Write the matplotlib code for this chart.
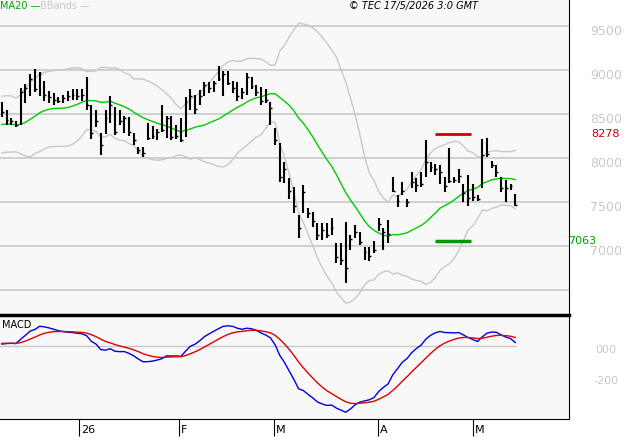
import numpy as np
import matplotlib.pyplot as plt
import matplotlib.transforms as mt

# daily bars (high, low, close)
highs = [8640, 8540, 8450, 8420, 8800, 8840, 8960, 9010, 8980, 8870,
         8760, 8740, 8690, 8720, 8760, 8780, 8780, 8780, 8920, 8600,
         8540, 8280, 8550, 8700, 8580, 8540, 8480, 8470, 8280, 8120,
         8120, 8400, 8360, 8330, 8600, 8480, 8480, 8380, 8460, 8690,
         8780, 8720, 8770, 8860, 8860, 8880, 9050, 8990, 8990, 8880,
         8860, 8790, 8970, 8920, 8830, 8810, 8780, 8640, 8340, 8170,
         7950, 7770, 7670, 7350, 7690, 7430, 7390, 7260, 7260, 7260,
         7320, 7040, 7040, 7270, 7130, 7240, 7160, 6990, 6990, 7060,
         7320, 7210, 7300, 7780, 7580, 7730, 7530, 7840, 7770, 7840,
         8200, 7950, 7930, 7920, 7790, 8110, 7780, 7880, 7700, 7810,
         7710, 7580, 8220, 8230, 7970, 7920, 7790, 7750, 7710, 7590]
lows = [8470, 8380, 8380, 8350, 8380, 8620, 8700, 8750, 8700, 8650,
        8630, 8600, 8620, 8620, 8650, 8660, 8660, 8650, 8550, 8220,
        8350, 8040, 8270, 8400, 8260, 8380, 8280, 8250, 8150, 8050,
        8010, 8200, 8220, 8200, 8300, 8230, 8200, 8220, 8180, 8240,
        8540, 8500, 8600, 8710, 8740, 8750, 8870, 8700, 8830, 8740,
        8650, 8670, 8720, 8780, 8700, 8600, 8620, 8380, 8150, 7730,
        7720, 7540, 7380, 7090, 7380, 7320, 7220, 7070, 7070, 7090,
        7130, 6810, 6780, 6580, 6950, 7090, 7010, 6840, 6830, 6920,
        7170, 6950, 7040, 7610, 7440, 7580, 7440, 7660, 7610, 7670,
        7780, 7840, 7810, 7700, 7610, 7720, 7720, 7720, 7500, 7460,
        7510, 7510, 7660, 8010, 7890, 7780, 7610, 7500, 7640, 7450]
closes = [8520, 8430, 8420, 8380, 8750, 8800, 8900, 8780, 8950, 8720,
          8690, 8660, 8650, 8680, 8700, 8720, 8700, 8720, 8600, 8280,
          8420, 8150, 8450, 8600, 8300, 8420, 8450, 8290, 8200, 8090,
          8060, 8230, 8250, 8290, 8320, 8450, 8240, 8250, 8210, 8640,
          8700, 8560, 8710, 8830, 8800, 8850, 8900, 8950, 8850, 8800,
          8700, 8750, 8920, 8820, 8750, 8650, 8660, 8570, 8200, 7780,
          7870, 7620, 7450, 7200, 7610, 7380, 7280, 7130, 7180, 7130,
          7200, 6880, 6840, 6750, 7080, 7160, 7050, 6930, 6890, 6960,
          7250, 7160, 7140, 7630, 7510, 7620, 7500, 7730, 7690, 7700,
          7960, 7900, 7870, 7840, 7680, 7740, 7750, 7800, 7600, 7550,
          7560, 7540, 8040, 8050, 7920, 7840, 7660, 7660, 7680, 7470]
# closes before the first visible bar (only feed the indicators)
pre_closes = [8300, 8450, 8600, 8550, 8400, 8200, 8100, 8150, 8250, 8350,
              8500, 8600, 8650, 8550, 8400, 8300, 8250, 8200, 8300]

tick_pos = [16.3, 37.6, 57.8, 79.8, 100.0]
tick_labels = ['26', 'F', 'M', 'A', 'M']
price_ticks = [7000, 7500, 8000, 8500, 9000, 9500]
macd_ticks = [0, -200]
level_hi, level_lo = 8278, 7063

allc = np.array(pre_closes + closes, dtype=float)
n_pre = len(pre_closes)
s = np.lib.stride_tricks.sliding_window_view(allc, 20)
ma = s.mean(axis=1)
sd = s.std(axis=1)
x_ma = np.arange(len(ma)) + (19 - n_pre)

def ema(v, n):
    a = 2 / (n + 1)
    out = np.empty_like(v)
    out[0] = v[0]
    for i in range(1, len(v)):
        out[i] = a * v[i] + (1 - a) * out[i - 1]
    return out

macd = ema(allc, 12) - ema(allc, 26)
sig = ema(macd, 9)
macd, sig = macd[n_pre:], sig[n_pre:]

x = np.arange(len(closes))
W, H = 627, 440
fig = plt.figure(figsize=(6.27, 4.4), dpi=100)
bg = '#f8f8f8'
grid = '#c8c8c8'

ax = fig.add_axes([0, 125 / H, 569 / W, 315 / H])
ax.set_facecolor(bg)
ax.set_xlim(-0.4, 120.4)
ax.set_ylim(6217, 9795)
for p in [6500] + price_ticks:
    ax.axhline(p, color=grid, lw=1.2, zorder=0)
ax.plot(x_ma, ma + 2 * sd, color='#c8c8c8', lw=1)
ax.plot(x_ma, ma - 2 * sd, color='#c8c8c8', lw=1)
ax.plot(x_ma, ma, color='#00cc00', lw=1)
ax.vlines(x, lows, highs, color='black', lw=1.5)
ax.hlines(closes, x, x + 0.4, color='black', lw=1)
ax.hlines(level_hi, 92, 99.5, color='#cc0000', lw=2)
ax.hlines(level_lo, 92, 99.5, color='#009900', lw=2.5)
ax.set_xticks([]); ax.set_yticks([])
for sp in ['top', 'left', 'bottom']:
    ax.spines[sp].set_visible(False)
ax.spines['right'].set_color('black')

ytr = mt.blended_transform_factory(fig.transFigure, ax.transData)
for p in price_ticks:
    ax.text(606 / W, p - 60, str(p), transform=ytr,
            ha='center', va='center', color='#c8c8c8', fontsize=9)
ax.text(605 / W, level_hi, str(level_hi), transform=ytr,
        ha='center', va='center', color='#cc0000', fontsize=8)
ax.text(568 / W, level_lo, str(level_lo), transform=ytr,
        ha='left', va='center', color='#009900', fontsize=8)

fig.text(0 / W, 1 - 6 / H, 'MA20 —', color='#00aa00', fontsize=7, va='center')
fig.text(40 / W, 1 - 6 / H, 'BBands —', color='#c8c8c8', fontsize=7, va='center')
fig.text(478 / W, 1 - 6 / H, '© TEC 17/5/2026 3:0 GMT', color='black',
         fontsize=7, style='italic', ha='right', va='center')

ax2 = fig.add_axes([0, 21 / H, 569 / W, 104 / H])
ax2.set_facecolor(bg)
ax2.set_xlim(-0.4, 120.4)
ax2.set_ylim(-470, 199)
ax2.axhline(0, color=grid, lw=1, xmax=109.5 / 120.8, zorder=0)
ax2.plot(x, macd, color='#0000dd', lw=1)
ax2.plot(x, sig, color='#dd0000', lw=1)
ax2.spines['top'].set_linewidth(2.5)
for sp in ax2.spines.values():
    sp.set_color('black')
ax2.spines['left'].set_visible(False)
ax2.set_yticks([])
ax2.set_xticks(tick_pos)
ax2.set_xticklabels(tick_labels, fontsize=8, ha='left')
ax2.tick_params(axis='x', length=12, direction='out', pad=-8)
for t in ax2.get_xticklabels():
    t.set_transform(t.get_transform() + mt.ScaledTranslation(2 / 100, 0, fig.dpi_scale_trans))
ax2.text(2 / 569, 0.9, 'MACD', transform=ax2.transAxes, fontsize=7, va='center')
ytr2 = mt.blended_transform_factory(fig.transFigure, ax2.transData)
for m in macd_ticks:
    ax2.text(606 / W, m - 25, '000' if m == 0 else str(m), transform=ytr2,
             ha='center', va='center', color='#c8c8c8', fontsize=8)

fig.savefig('out.png', dpi=100, facecolor='white')
